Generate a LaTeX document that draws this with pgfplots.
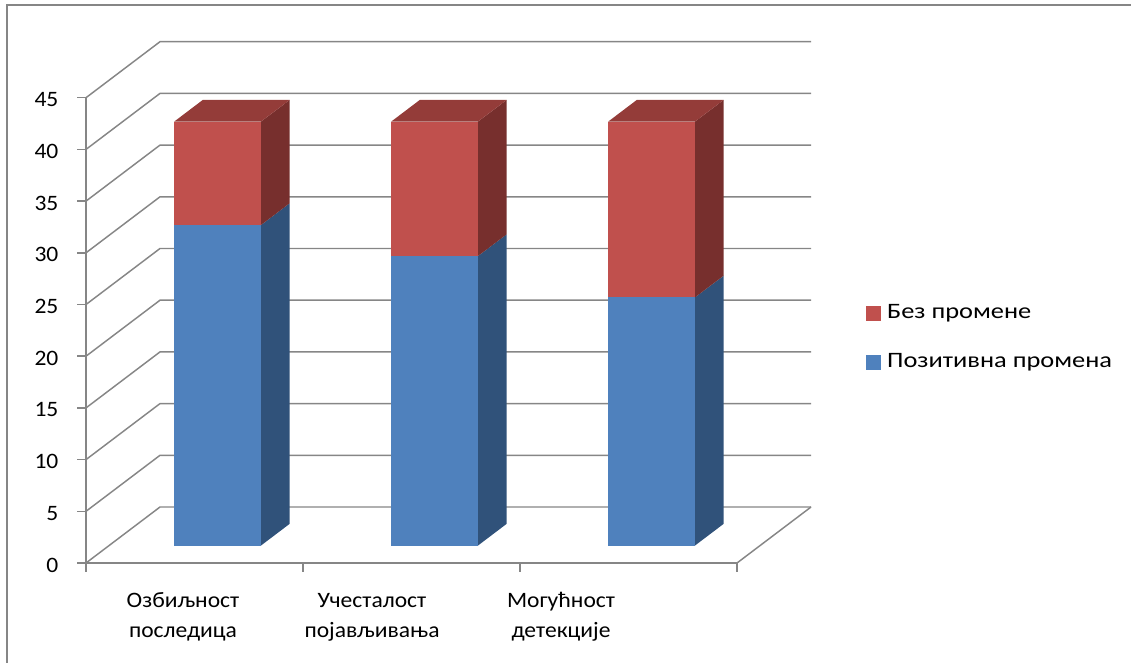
\documentclass[border=0pt]{standalone}
\usepackage{fontspec}
\setmainfont{Carlito}[FakeStretch=1.07]
\newfontfamily\legfont{Carlito}[FakeStretch=1.2]
\usepackage{pgfplots}
\pgfplotsset{compat=1.18}
\definecolor{gridc}{HTML}{868686}
\definecolor{rfront}{HTML}{C0504D}
\definecolor{rtop}{HTML}{943C39}
\definecolor{rside}{HTML}{772F2D}
\definecolor{bfront}{HTML}{4F81BD}
\definecolor{bside}{HTML}{30527A}
% #1 left x, #2 right x, #3 top of blue part, #4 top of red part
\newcommand\stackbar[4]{%
 \addplot3[fill=bside,draw=none] coordinates {(#2,0.31,0) (#2,0.70,0) (#2,0.70,#3) (#2,0.31,#3)} -- cycle;
 \addplot3[fill=bfront,draw=none] coordinates {(#1,0.31,0) (#2,0.31,0) (#2,0.31,#3) (#1,0.31,#3)} -- cycle;
 \addplot3[fill=rside,draw=none] coordinates {(#2,0.31,#3) (#2,0.70,#3) (#2,0.70,#4) (#2,0.31,#4)} -- cycle;
 \addplot3[fill=rfront,draw=none] coordinates {(#1,0.31,#3) (#2,0.31,#3) (#2,0.31,#4) (#1,0.31,#4)} -- cycle;
 \addplot3[fill=rtop,draw=none] coordinates {(#1,0.31,#4) (#2,0.31,#4) (#2,0.70,#4) (#1,0.70,#4)} -- cycle;
}
\newcommand\lblfont{\fontsize{16.5}{22.5}\selectfont}
\begin{document}
\begin{tikzpicture}
\begin{axis}[
  hide axis, clip=false,
  x={(162.75pt,0pt)}, y={(55.5pt,42pt)}, z={(0pt,7.755pt)},
  xmin=0, xmax=3, ymin=0, ymax=1, zmin=0, zmax=45,
]
\coordinate (O) at (axis cs:0,0,0);
\pgfplotsinvokeforeach{0,5,...,45}{
  \draw[gridc, line width=1.1pt] (axis cs:0,0,#1) -- (axis cs:0,1,#1) -- (axis cs:3,1,#1);
}
\draw[gridc, line width=1.1pt] (axis cs:3,0,0) -- (axis cs:3,1,0);
% Позитивна промена + Без промене = total
\stackbar{0.3}{0.7}{31}{41}   % 31 + 10
\stackbar{1.3}{1.7}{28}{41}   % 28 + 13
\stackbar{2.3}{2.7}{24}{41}   % 24 + 17
\end{axis}
\begin{axis}[
  at={(O)}, anchor=south west, clip=false,
  x={(162.75pt,0pt)}, y={(0pt,7.755pt)},
  xmin=0, xmax=3, ymin=0, ymax=45,
  axis lines=left, axis line style={gridc, line width=1.1pt, -},
  /pgf/number format/assume math mode=true,
  tick align=outside, major tick length=6.5pt,
  tick style={gridc, line width=1.1pt},
  xtick={0,1,2,3}, xticklabels={,,,},
  extra x ticks={0.447,1.318,2.189},
  extra x tick labels={{Озбиљност\\последица},{Учесталост\\појављивања},{Могућност\\детекције}},
  extra x tick style={major tick length=0pt},
  x tick label style={align=center, font=\lblfont, inner sep=0pt, anchor=north, text height=12pt, yshift=-43.3pt},
  ytick={0,5,...,45},
  y tick label style={font=\lblfont, inner sep=0pt, anchor=east, xshift=-14pt, yshift=-1.5pt},
  legend style={at={(1.1982,0.5581)}, anchor=north west, draw=none, fill=none,
    font=\legfont\fontsize{16.5}{20}\selectfont, inner sep=0pt, row sep=22.75pt, column sep=4.7pt,
    nodes={inner sep=0pt, text height=11pt, text depth=3pt}},
  legend cell align=left,
  legend image code/.code={\fill[#1] (0pt,-5.25pt) rectangle (10.5pt,5.25pt);},
]
\addlegendimage{rfront}
\addlegendentry{Без промене}
\addlegendimage{bfront}
\addlegendentry{Позитивна промена}
\end{axis}
\draw[gridc, line width=0.8pt, shift={(O)}] (-59.25pt,-100pt) -- (-59.25pt,418.5pt) -- (820pt,418.5pt);
\pgfresetboundingbox
\path[use as bounding box, shift={(O)}] (-64.5pt,-74.25pt) rectangle ++(848.25pt,496.5pt);
\end{tikzpicture}
\end{document}
